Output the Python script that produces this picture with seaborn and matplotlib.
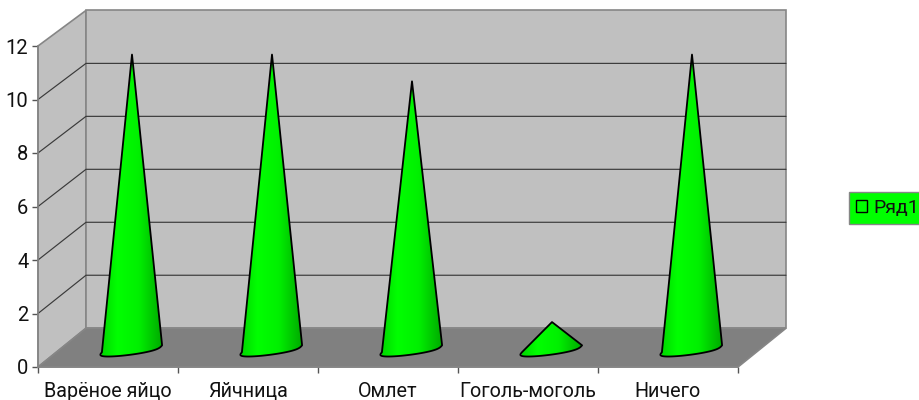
#!/usr/bin/env python3
"""3D-looking cone chart: breakfast votes, spreadsheet style."""

import matplotlib
matplotlib.use("Agg")
import matplotlib.pyplot as plt
import numpy as np
import seaborn as sns
from matplotlib.colors import LinearSegmentedColormap
from matplotlib.patches import Patch, Polygon

categories = ["Варёное яйцо", "Яйчница", "Омлет", "Гоголь-моголь", "Ничего"]
values = [11, 11, 10, 1, 11]
y_ticks = [0, 2, 4, 6, 8, 10, 12]
series_name = "Ряд1"

WALL = "#c0c0c0"
FLOOR = "#808080"
GRID = "#3a3a3a"
EDGE = "#868686"
DEPTH_X = 48 / 140
Y_MAX = y_ticks[-1]


def back_y(v):
    # back wall sits higher and is very slightly squashed
    return v * 0.99 + 1.45


sns.set_style("white")
plt.rcParams["font.family"] = ["Roboto", "DejaVu Sans"]

fig = plt.figure(figsize=(9.2, 4), dpi=100)
ax = fig.add_axes([38 / 920, 1 - 367 / 400, 700 / 920, 321 / 400])
ax.patch.set_visible(False)

sns.barplot(x=categories, y=values, width=0.43, color="#00ff00", ax=ax)
bars = list(ax.patches)
x0, x1 = -0.5, len(categories) - 0.5

# walls and floor
side = [(x0, 0), (x0 + DEPTH_X, back_y(0)), (x0 + DEPTH_X, back_y(Y_MAX)), (x0, Y_MAX)]
back = [(x0 + DEPTH_X, back_y(0)), (x1 + DEPTH_X, back_y(0)),
        (x1 + DEPTH_X, back_y(Y_MAX)), (x0 + DEPTH_X, back_y(Y_MAX))]
floor = [(x0, 0), (x1, 0), (x1 + DEPTH_X, back_y(0)), (x0 + DEPTH_X, back_y(0))]
for pts, col in [(side, WALL), (back, WALL), (floor, FLOOR)]:
    ax.add_patch(Polygon(pts, closed=True, facecolor=col, edgecolor=EDGE, lw=1.2,
                         clip_on=False, zorder=0.5))

for v in y_ticks[1:-1]:
    ax.plot([x0, x0 + DEPTH_X, x1 + DEPTH_X], [v, back_y(v), back_y(v)],
            color=GRID, lw=0.85, clip_on=False, zorder=0.8)

# replace the bars by cones standing in the middle of the floor
shade = LinearSegmentedColormap.from_list(
    "cone", [(0, "#00d800"), (0.25, "#00ff00"), (0.6, "#00f000"), (1, "#00a800")])
gradient = np.linspace(0, 1, 256).reshape(1, -1)
base_y = 0.68
theta = np.linspace(np.pi, 0, 50)
for bar in bars:
    left, width, height = bar.get_x(), bar.get_width(), bar.get_height()
    bar.set_visible(False)
    cx = left + width / 2 + DEPTH_X / 2
    # sin ** 0.6 keeps the base flat with rounded corners
    lift = np.clip(np.sin(theta), 0, 1) ** 0.6
    ex = cx + (width / 2) * np.cos(theta) - 0.04 * lift
    ey = base_y + 0.13 * np.cos(theta) - 0.24 * lift
    outline = [(cx, base_y + height)] + list(zip(ex, ey))
    poly = Polygon(outline, closed=True, facecolor="none", edgecolor="black",
                   lw=1.3, joinstyle="round", zorder=3)
    ax.add_patch(poly)
    im = ax.imshow(gradient, extent=(cx - width / 2, cx + width / 2, 0, Y_MAX),
                   aspect="auto", cmap=shade, vmin=0, vmax=1, zorder=2)
    im.set_clip_path(poly)

ax.set_xlim(x0, x1)
ax.set_ylim(0, Y_MAX)
ax.set_xlabel("")
ax.set_ylabel("")
ax.set_yticks(y_ticks)
ax.set_xticks(range(len(categories)))
ax.set_xticklabels(categories)
ax.set_xticks(np.arange(x0, x1 + 0.5), minor=True)

for name in ["top", "right"]:
    ax.spines[name].set_visible(False)
for name in ["left", "bottom"]:
    ax.spines[name].set_color(EDGE)
    ax.spines[name].set_linewidth(1.2)

ax.tick_params(axis="y", length=4, width=1, color="#555555", pad=3,
               labelsize=14.5, left=True, labelcolor="#111111")
ax.tick_params(axis="x", which="major", length=0, pad=21.5, labelsize=14.2,
               labelcolor="#111111")
ax.tick_params(axis="x", which="minor", length=4, width=1, color="#555555",
               bottom=True)
for lab in ax.get_xticklabels():
    lab.set_verticalalignment("baseline")

handle = Patch(facecolor="#00ff00", edgecolor="black", linewidth=1.0, label=series_name)
leg = fig.legend(handles=[handle], loc="center left",
                 bbox_to_anchor=(849 / 920, 1 - 208 / 400), fontsize=14,
                 frameon=True, fancybox=False, facecolor="#00ff00", edgecolor=EDGE,
                 framealpha=1, borderaxespad=0, handlelength=0.55, handleheight=0.55,
                 handletextpad=0.3, borderpad=0.38, labelcolor="#111111")

fig.savefig("out.png", dpi=100, facecolor="white")
